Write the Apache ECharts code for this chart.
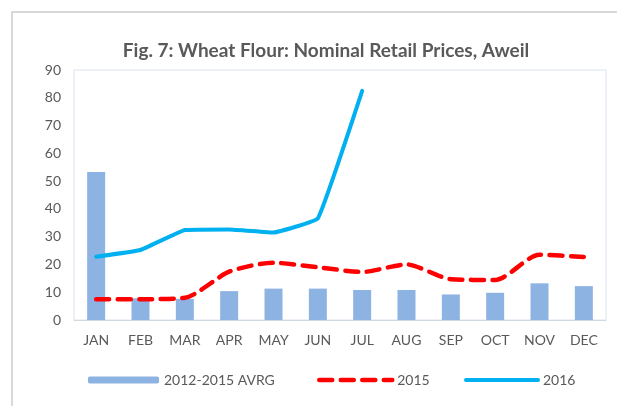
<!DOCTYPE html>
<html>
<head>
<meta charset="utf-8">
<script src="https://cdn.jsdelivr.net/npm/echarts@6/dist/echarts.min.js"></script>
<style>
  html, body { margin: 0; padding: 0; background: #fff; }
  #chart { width: 617px; height: 406px; }
</style>
</head>
<body>
<div id="chart"></div>
<script>
// months on the x axis
const months = ['JAN', 'FEB', 'MAR', 'APR', 'MAY', 'JUN', 'JUL', 'AUG', 'SEP', 'OCT', 'NOV', 'DEC'];
// 2012-2015 average (bars)
const avrg = [53.3, 7.8, 7.6, 10.4, 11.3, 11.3, 10.8, 10.8, 9.2, 9.8, 13.2, 12.2];
// 2015 (red dashed)
const y2015 = [7.5, 7.5, 8.0, 17.4, 20.6, 19.0, 17.3, 20.0, 14.7, 14.4, 23.5, 22.7];
// 2016 (blue), only till july
const y2016 = [22.8, 25.2, 32.4, 32.6, 31.5, 36.6, 82.5, null, null, null, null, null];

const font = 'Lato, "Liberation Sans", sans-serif';
const grey = '#595959';
const legendText = { fontSize: 14, color: grey, fontFamily: font };

let myChart = echarts.init(document.getElementById('chart'));
myChart.setOption({
	animation: false,
	textStyle: { fontFamily: font },
	graphic: [
		{
			type: 'rect',
			shape: { x: 12, y: 12, width: 700, height: 500 },
			style: { fill: 'none', stroke: '#d9d9d9', lineWidth: 2 }
		}
	],
	title: {
		text: 'Fig. 7: Wheat Flour: Nominal Retail Prices, Aweil',
		left: 321,
		textAlign: 'center',
		top: 36,
		textStyle: { fontSize: 19, fontWeight: 'bold', color: grey, fontFamily: font }
	},
	grid: {
		left: 74, right: 11, top: 70, bottom: 86,
		show: true,
		borderColor: '#dce4f0',
		borderWidth: 1
	},
	// one legend per item so each can sit where excel put it
	legend: [
		{
			top: 368, left: 83,
			itemWidth: 71, itemHeight: 7,
			textStyle: legendText,
			data: ['2012-2015 AVRG']
		},
		{
			top: 368, left: 312,
			itemWidth: 73, itemHeight: 16,
			textStyle: legendText,
			lineStyle: { width: 4.5, type: [13, 8.5], cap: 'round' },
			data: [{ name: '2015', itemStyle: { opacity: 0 } }]
		},
		{
			top: 368, left: 459,
			itemWidth: 72, itemHeight: 16,
			textStyle: legendText,
			lineStyle: { width: 4, cap: 'round' },
			data: [{ name: '2016', itemStyle: { opacity: 0 } }]
		}
	],
	xAxis: {
		type: 'category',
		data: months,
		axisLine: { lineStyle: { color: '#d0d8e4' } },
		axisTick: { show: false },
		axisLabel: { color: grey, fontSize: 14, margin: 13 }
	},
	yAxis: {
		type: 'value',
		min: 0, max: 90, interval: 10,
		splitLine: { show: false },
		axisLine: { show: false },
		axisLabel: { color: grey, fontSize: 14, margin: 13 }
	},
	series: [
		{
			name: '2012-2015 AVRG',
			type: 'bar',
			data: avrg,
			barWidth: 18,
			itemStyle: { color: '#8db3e2' }
		},
		{
			name: '2015',
			type: 'line',
			data: y2015,
			smooth: 0.25,
			symbol: 'none',
			lineStyle: { color: '#ff0000', width: 4.5, type: [13, 8.5], cap: 'round' },
			itemStyle: { color: '#ff0000' }
		},
		{
			name: '2016',
			type: 'line',
			data: y2016,
			smooth: 0.08,
			symbol: 'none',
			lineStyle: { color: '#00b0f0', width: 4, cap: 'round' },
			itemStyle: { color: '#00b0f0' }
		}
	]
});
</script>
</body>
</html>
